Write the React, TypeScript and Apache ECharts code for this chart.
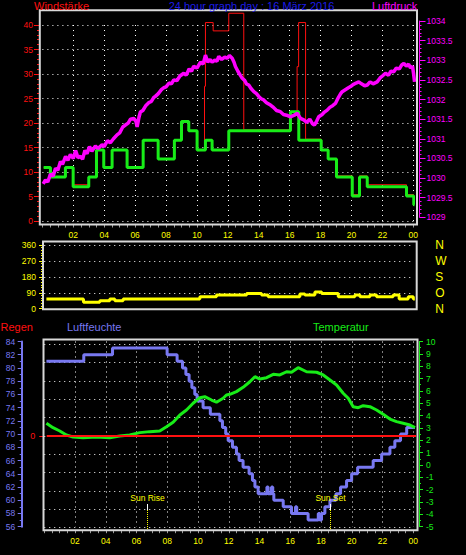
import React, { useEffect, useRef } from 'react';
import * as echarts from 'echarts';

// ---------- axis labels ----------
const timeTickHours = [2, 4, 6, 8, 10, 12, 14, 16, 18, 20, 22, 24];
const timeTickLabels = ['02', '04', '06', '08', '10', '12', '14', '16', '18', '20', '22', '00'];
const compassValues = [0, 90, 180, 270, 360];
const compassLabels = ['N', 'O', 'S', 'W', 'N'];

// ---------- top panel: wind speed / gusts (Windstärke) ----------
const windHours = [0.08, 0.52, 1.49, 1.99, 3.0, 3.5, 3.97, 4.51, 5.48, 6.52, 7.49, 8.54, 9.0, 9.47, 10.01, 10.55, 10.98, 12.06, 16.05, 16.59, 18.04, 18.49, 19.03, 20.05, 20.52, 21.02, 23.56, 24.03, 24.08];
const windSpeed = [10.9, 9.0, 10.9, 7.0, 9.0, 14.5, 10.9, 14.5, 10.9, 16.5, 12.65, 16.5, 20.3, 18.4, 14.5, 16.5, 14.5, 18.4, 22.3, 16.5, 14.5, 12.65, 9.0, 5.1, 9.0, 7.0, 5.1, 3.3, 3.3];
const gustHours = [0.08, 0.52, 1.49, 1.99, 3.0, 3.5, 3.97, 4.51, 5.48, 6.52, 7.49, 8.54, 9.0, 9.47, 10.01, 10.49, 10.55, 11.05, 12.06, 13.03, 16.05, 16.48, 16.58, 17.03, 18.04, 18.49, 19.03, 20.05, 20.52, 21.02, 23.56, 24.03];
const gustSpeed = [10.9, 9.0, 10.9, 7.4, 9.0, 14.5, 10.9, 14.5, 10.9, 16.5, 12.65, 16.5, 20.3, 18.4, 14.5, 27.5, 40.5, 38.8, 42.4, 18.6, 22.3, 31.5, 40.5, 16.7, 14.5, 12.65, 9.2, 5.4, 9.2, 7.4, 5.4, 5.4];

// ---------- top panel: pressure (Luftdruck) ----------
const pressureHours = [0.05, 0.2, 0.35, 0.52, 0.7, 0.85, 1.0, 1.17, 1.3, 1.5, 1.65, 1.81, 2.0, 2.15, 2.3, 2.46, 2.6, 2.75, 2.89, 3.05, 3.2, 3.43, 3.6, 3.86, 4.0, 4.2, 4.4, 4.6, 4.83, 5.0, 5.2, 5.37, 5.55, 5.7, 5.91, 6.05, 6.13, 6.25, 6.34, 6.5, 6.7, 6.88, 7.05, 7.2, 7.31, 7.5, 7.7, 7.85, 8.0, 8.2, 8.35, 8.5, 8.7, 8.9, 9.15, 9.3, 9.5, 9.65, 9.79, 10.0, 10.23, 10.4, 10.55, 10.7, 10.85, 10.98, 11.15, 11.3, 11.41, 11.6, 11.8, 11.95, 12.1, 12.28, 12.4, 12.49, 12.65, 12.8, 12.93, 13.1, 13.2, 13.35, 13.5, 13.68, 13.85, 14.0, 14.15, 14.32, 14.5, 14.76, 14.95, 15.15, 15.4, 15.6, 15.8, 16.05, 16.3, 16.49, 16.7, 16.91, 17.1, 17.3, 17.46, 17.6, 17.75, 17.88, 18.1, 18.25, 18.43, 18.6, 18.8, 18.96, 19.15, 19.3, 19.4, 19.6, 19.8, 19.94, 20.1, 20.3, 20.47, 20.65, 20.85, 21.02, 21.2, 21.4, 21.66, 21.85, 22.0, 22.2, 22.4, 22.55, 22.74, 22.9, 23.1, 23.25, 23.39, 23.55, 23.7, 23.82, 23.95, 24.02, 24.08];
const pressureVals = [1029.85, 1029.95, 1029.9, 1030.1, 1030.05, 1030.25, 1030.2, 1030.42, 1030.35, 1030.55, 1030.45, 1030.6, 1030.5, 1030.7, 1030.52, 1030.55, 1030.48, 1030.7, 1030.62, 1030.8, 1030.68, 1030.82, 1030.75, 1030.85, 1030.8, 1030.95, 1030.9, 1031.0, 1031.1, 1031.15, 1031.3, 1031.35, 1031.4, 1031.5, 1031.52, 1031.45, 1031.3, 1031.55, 1031.68, 1031.72, 1031.85, 1031.92, 1031.95, 1032.05, 1032.08, 1032.15, 1032.25, 1032.3, 1032.32, 1032.42, 1032.4, 1032.5, 1032.48, 1032.6, 1032.67, 1032.62, 1032.78, 1032.72, 1032.85, 1032.8, 1032.95, 1032.9, 1033.13, 1032.95, 1033.02, 1032.95, 1033.0, 1032.98, 1033.1, 1033.02, 1033.08, 1033.05, 1033.12, 1033.05, 1032.95, 1032.84, 1032.72, 1032.62, 1032.54, 1032.48, 1032.4, 1032.37, 1032.28, 1032.2, 1032.15, 1032.08, 1032.02, 1031.99, 1031.92, 1031.86, 1031.8, 1031.72, 1031.69, 1031.62, 1031.6, 1031.56, 1031.6, 1031.65, 1031.52, 1031.48, 1031.42, 1031.5, 1031.39, 1031.35, 1031.45, 1031.56, 1031.62, 1031.68, 1031.73, 1031.8, 1031.85, 1031.9, 1032.05, 1032.15, 1032.2, 1032.25, 1032.3, 1032.33, 1032.38, 1032.42, 1032.45, 1032.4, 1032.35, 1032.37, 1032.45, 1032.4, 1032.45, 1032.55, 1032.6, 1032.67, 1032.62, 1032.72, 1032.71, 1032.8, 1032.78, 1032.88, 1032.92, 1032.85, 1032.9, 1032.8, 1032.85, 1032.65, 1032.45];

// ---------- middle panel: wind direction ----------
const dirHours = [0.14, 2.55, 3.61, 4.26, 4.59, 5.13, 10.12, 11.2, 13.16, 14.13, 14.56, 16.62, 16.95, 17.6, 18.04, 19.12, 20.2, 20.53, 21.18, 21.61, 22.69, 23.08, 23.67, 24.0, 24.1];
const dirVals = [55, 36, 45, 55, 45, 55, 67.5, 77, 86.6, 77, 67.5, 82.7, 77, 94, 86.6, 67.5, 77, 67.5, 77, 67.5, 77, 55, 67.5, 55, 55];

// ---------- bottom panel: humidity, temperature, rain ----------
const humHours = [0.14, 2.57, 4.44, 7.99, 8.64, 8.99, 9.21, 9.42, 9.6, 9.79, 9.94, 10.33, 10.8, 11.42, 11.59, 11.8, 11.96, 12.24, 12.5, 12.67, 12.93, 13.32, 13.54, 13.7, 13.91, 14.48, 14.56, 14.78, 14.86, 14.93, 15.54, 16.08, 16.34, 16.42, 17.16, 17.82, 17.92, 18.03, 18.25, 18.58, 18.97, 19.27, 19.66, 19.99, 20.38, 21.39, 21.94, 22.48, 22.8, 23.17, 23.57, 24.11];
const humVals = [81, 82, 83, 82, 81, 80, 79, 78, 77, 76, 75, 74, 73, 72, 71, 70, 69, 68, 67, 66, 65, 64, 63, 62, 61, 62, 61, 62, 61, 60, 59, 58, 59, 58, 57, 58, 57, 58, 59, 60, 61, 62, 63, 64, 65, 66, 67, 68, 69, 70, 71, 71];
const tempHours = [0.14, 0.57, 1.01, 1.44, 1.87, 2.52, 3.4, 4.26, 4.91, 5.56, 6.21, 6.86, 7.51, 7.95, 8.38, 8.82, 9.25, 9.68, 10.12, 10.44, 10.88, 11.2, 11.63, 11.85, 12.07, 12.5, 12.93, 13.37, 13.7, 14.02, 14.46, 14.89, 15.32, 15.76, 16.08, 16.51, 17.06, 17.71, 18.14, 18.58, 19.01, 19.44, 19.77, 20.09, 20.42, 20.74, 21.18, 21.61, 22.04, 22.48, 22.91, 23.34, 23.78, 24.11];
const tempVals = [3.38, 3.02, 2.75, 2.43, 2.27, 2.21, 2.27, 2.21, 2.35, 2.43, 2.62, 2.7, 2.75, 3.1, 3.46, 4.05, 4.45, 5.0, 5.45, 5.53, 5.26, 5.08, 5.4, 5.67, 5.72, 5.94, 6.29, 6.74, 7.15, 6.96, 7.07, 7.34, 7.29, 7.55, 7.51, 7.88, 7.55, 7.51, 7.29, 6.88, 6.48, 5.81, 5.4, 4.72, 4.64, 4.8, 4.72, 4.45, 4.11, 3.72, 3.51, 3.38, 3.24, 3.02];
const rainHours = [0.16, 24.18];
const rainVals = [0, 0];
const sunHours = [6.7, 18.58];
const sunLabels = ['Sun Rise', 'Sun Set'];

const RED = '#ff1010';
const GREEN = '#18ec18';
const MAGENTA = '#ff00ff';
const YELLOW = '#ffff00';
const HUM = '#7878f0';
const BLUE = '#1c1ce8';
const BORDER = '#d8d8d8';
const FONT = '"Liberation Sans", Arial, sans-serif';

const zip = (xs: number[], ys: number[]) => xs.map((x, i) => [x, ys[i]]);
const dotted = { color: '#ffffff', width: 1, type: [1, 4] };
const timeFmt = (v: number) => {
  const i = timeTickHours.indexOf(v);
  return i >= 0 ? timeTickLabels[i] : '';
};
const numFmt = (v: number) => String(v);

function txt(id: string, text: string, x: number, y: number, fill: string, size: number, align = 'left') {
  return {
    type: 'text', id, x, y, z: 100, silent: true,
    style: { text, fill, font: `${size}px ${FONT}`, textAlign: align, align, textVerticalAlign: 'middle', verticalAlign: 'middle' },
  };
}
function box(id: string, x: number, y: number, w: number, h: number) {
  return {
    type: 'rect', id, z: 90, silent: true,
    shape: { x, y, width: w, height: h },
    style: { fill: 'none', stroke: BORDER, lineWidth: 2 },
  };
}

export default function App() {
  const ref = useRef<HTMLDivElement>(null);
  useEffect(() => {
    if (!ref.current) return;
    const chart = echarts.init(ref.current, null, { renderer: 'svg' });
    const hidX = (gridIndex: number) => ({
      type: 'value', gridIndex, min: 0, max: 24, interval: 2, show: false, axisLine: { onZero: false },
    });
    const timeAxis = (gridIndex: number) => ({
      type: 'value', gridIndex, min: 0, max: 24, interval: 2, position: 'bottom', offset: 3.5,
      axisLine: { show: false, onZero: false },
      axisTick: { show: true, length: 3, lineStyle: { color: '#9a9a9a' } },
      minorTick: { show: true, splitNumber: 4, length: 3, lineStyle: { color: '#9a9a9a' } },
      axisLabel: { color: YELLOW, fontSize: 8.5, fontFamily: FONT, margin: 6, formatter: timeFmt, showMinLabel: false, showMaxLabel: true },
      splitLine: { show: true, showMinLine: false, showMaxLine: true, lineStyle: dotted },
    });
    const graphics: any[] = [
      box('b1', 39.8, 10.2, 377.2, 214.3),
      box('b2', 43, 241.5, 373.7, 67.8),
      box('b3', 43.5, 339.5, 374, 190.7),
      txt('t1', 'Windstärke', 34, 6, RED, 11),
      txt('t2', '24 hour graph day : 16 März 2016', 251.5, 6, BLUE, 11, 'center'),
      txt('t3', 'Luftdruck', 372, 6, MAGENTA, 11),
      txt('t4', 'Regen', 0.5, 327, RED, 11),
      txt('t5', 'Luftfeuchte', 67, 327, HUM, 11),
      txt('t6', 'Temperatur', 313, 327, GREEN, 11),
    ];
    const option: any = {
      backgroundColor: '#000000',
      animation: false,
      textStyle: { fontFamily: FONT },
      grid: [
        { left: 42.4, top: 25, width: 370.9, height: 196, outerBoundsMode: 'none' },
        { left: 42.4, top: 21, width: 370.9, height: 196.3, outerBoundsMode: 'none' },
        { left: 44.25, top: 245, width: 369.05, height: 63.7, outerBoundsMode: 'none' },
        { left: 44.25, top: 341.5, width: 369.05, height: 185.2, outerBoundsMode: 'none' },
        { left: 44.25, top: 344.3, width: 369.05, height: 183.4, outerBoundsMode: 'none' },
      ],
      xAxis: [timeAxis(0), hidX(1), hidX(2), timeAxis(3), hidX(4)],
      yAxis: [
        { // 0 wind speed
          type: 'value', gridIndex: 0, min: 0, max: 40, interval: 5, position: 'left', offset: 3.4,
          axisLine: { show: false, onZero: false },
          axisTick: { show: true, length: 5, lineStyle: { color: RED } },
          minorTick: { show: true, splitNumber: 5, length: 2, lineStyle: { color: RED } },
          axisLabel: { color: RED, fontSize: 8.5, fontFamily: FONT, margin: 6, formatter: numFmt },
          splitLine: { show: true, showMinLine: true, showMaxLine: true, lineStyle: dotted },
        },
        { // 1 pressure
          type: 'value', gridIndex: 1, min: 1029, max: 1034, interval: 0.5, position: 'right', offset: 6.2,
          axisLine: { show: true, onZero: false, lineStyle: { color: MAGENTA, width: 1 } },
          axisTick: { show: true, length: 6, lineStyle: { color: MAGENTA } },
          minorTick: { show: true, splitNumber: 5, length: 2, lineStyle: { color: MAGENTA } },
          axisLabel: { color: MAGENTA, fontSize: 8.5, fontFamily: FONT, margin: 7, formatter: numFmt },
          splitLine: { show: false },
        },
        { // 2 wind direction
          type: 'value', gridIndex: 2, min: 0, max: 360, interval: 90, position: 'left', offset: 1.25,
          axisLine: { show: false, onZero: false },
          axisTick: { show: true, length: 4, lineStyle: { color: YELLOW } },
          minorTick: { show: true, splitNumber: 6, length: 2, lineStyle: { color: YELLOW } },
          axisLabel: { color: YELLOW, fontSize: 8.5, fontFamily: FONT, margin: 7, formatter: numFmt },
          splitLine: { show: true, showMinLine: false, showMaxLine: true, lineStyle: dotted },
        },
        { // 3 compass letters
          type: 'value', gridIndex: 2, min: 0, max: 360, interval: 90, position: 'right', offset: 0,
          axisLine: { show: false, onZero: false }, axisTick: { show: false }, splitLine: { show: false },
          axisLabel: {
            color: YELLOW, fontSize: 12, fontFamily: FONT, margin: 22,
            formatter: (v: number) => { const i = compassValues.indexOf(v); return i >= 0 ? compassLabels[i] : ''; },
          },
        },
        { // 4 humidity
          type: 'value', gridIndex: 3, min: 56, max: 84, interval: 2, position: 'left', offset: 22.55,
          axisLine: { show: true, onZero: false, lineStyle: { color: HUM, width: 2 } },
          axisTick: { show: true, length: 4, lineStyle: { color: HUM } },
          minorTick: { show: true, splitNumber: 2, length: 2, lineStyle: { color: HUM } },
          axisLabel: { color: HUM, fontSize: 8.5, fontFamily: FONT, margin: 6.5, formatter: numFmt },
          splitLine: { show: false },
        },
        { // 5 temperature
          type: 'value', gridIndex: 3, min: -5, max: 10, interval: 1, position: 'right', offset: 5.7,
          axisLine: { show: true, onZero: false, lineStyle: { color: GREEN, width: 1 } },
          axisTick: { show: true, length: 4, lineStyle: { color: GREEN } },
          minorTick: { show: true, splitNumber: 2, length: 2, lineStyle: { color: GREEN } },
          axisLabel: { color: GREEN, fontSize: 8.5, fontFamily: FONT, margin: 7, formatter: numFmt },
          splitLine: { show: false },
        },
        { // 6 bottom grid lines
          type: 'value', gridIndex: 4, min: -5, max: 5, interval: 1, position: 'left',
          axisLine: { show: false, onZero: false }, axisTick: { show: false }, axisLabel: { show: false },
          splitLine: { show: true, showMinLine: true, showMaxLine: true, lineStyle: dotted },
        },
        { // 7 rain
          type: 'value', gridIndex: 4, min: -5, max: 5, interval: 1, position: 'left', offset: 1,
          axisLine: { show: false, onZero: false },
          axisTick: { show: true, length: 4, customValues: [0], lineStyle: { color: RED } },
          axisLabel: { color: RED, fontSize: 9, fontFamily: FONT, margin: 8, customValues: [0], formatter: (v: number) => (v === 0 ? '0' : '') },
          splitLine: { show: false },
        },
      ],
      series: [
        { name: 'Böen', type: 'line', xAxisIndex: 0, yAxisIndex: 0, data: zip(gustHours, gustSpeed), step: 'end', symbol: 'none', clip: false, z: 2, lineStyle: { color: RED, width: 1 } },
        { name: 'Wind', type: 'line', xAxisIndex: 0, yAxisIndex: 0, data: zip(windHours, windSpeed), step: 'end', symbol: 'none', clip: false, z: 3, lineStyle: { color: GREEN, width: 3 } },
        { name: 'Luftdruck', type: 'line', xAxisIndex: 1, yAxisIndex: 1, data: zip(pressureHours, pressureVals), symbol: 'none', clip: false, z: 4, lineStyle: { color: MAGENTA, width: 3.5 } },
        { name: 'Windrichtung', type: 'line', xAxisIndex: 2, yAxisIndex: 2, data: zip(dirHours, dirVals), step: 'end', symbol: 'none', clip: false, z: 3, lineStyle: { color: YELLOW, width: 3 } },
        { name: 'Luftfeuchte', type: 'line', xAxisIndex: 3, yAxisIndex: 4, data: zip(humHours, humVals), step: 'end', symbol: 'none', clip: false, z: 3, lineStyle: { color: HUM, width: 3 } },
        { name: 'Temperatur', type: 'line', xAxisIndex: 3, yAxisIndex: 5, data: zip(tempHours, tempVals), symbol: 'none', clip: false, z: 4, lineStyle: { color: GREEN, width: 3 } },
        { name: 'Regen', type: 'line', xAxisIndex: 4, yAxisIndex: 7, data: zip(rainHours, rainVals), symbol: 'none', clip: false, z: 5, lineStyle: { color: RED, width: 2 } },
      ],
      graphic: { elements: graphics },
    };
    chart.setOption(option);
    const sunEls: any[] = [];
    sunHours.forEach((h, i) => {
      const px = chart.convertToPixel({ xAxisIndex: 3 }, h) as number;
      const x = Math.round(px) + 0.5;
      sunEls.push(txt('sunT' + i, sunLabels[i], x, 497.5, YELLOW, 8.5, 'center'));
      sunEls.push({ type: 'line', id: 'sunW' + i, z: 100, silent: true, shape: { x1: x, y1: 504, x2: x, y2: 510 }, style: { stroke: '#ffffff', lineWidth: 1 } });
      sunEls.push({ type: 'line', id: 'sunY' + i, z: 100, silent: true, shape: { x1: x, y1: 510, x2: x, y2: 530 }, style: { stroke: YELLOW, lineWidth: 1, lineDash: [1, 1] } });
    });
    chart.setOption({ graphic: { elements: graphics.concat(sunEls) } });
    return () => chart.dispose();
  }, []);
  return <div ref={ref} style={{ position: 'absolute', left: 0, top: 0, width: 466, height: 555, background: '#000' }} />;
}
